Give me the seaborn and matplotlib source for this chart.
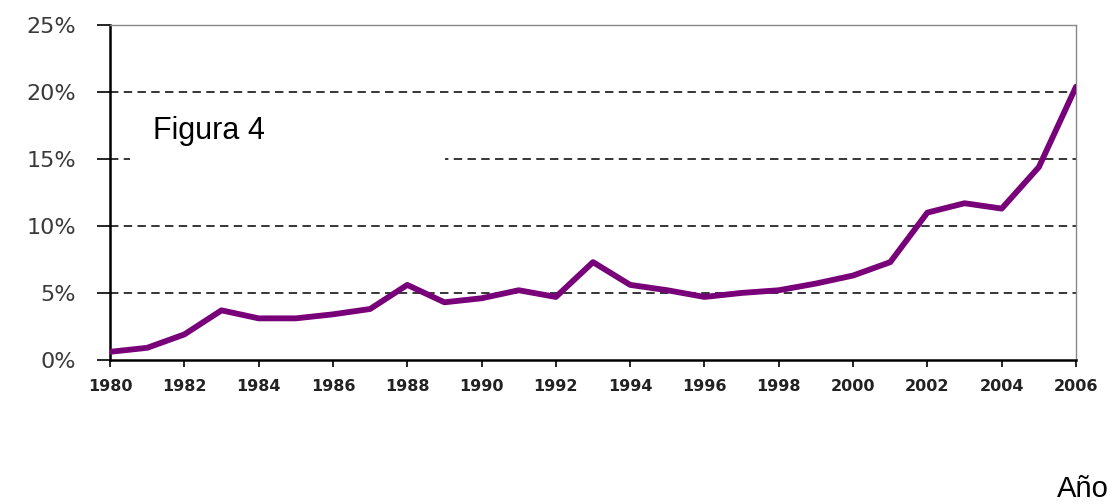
import pandas as pd
import seaborn as sns
import matplotlib.pyplot as plt
from matplotlib.ticker import FuncFormatter

# ------------------------------------------------------------
# Data (share, %)
# ------------------------------------------------------------
years = list(range(1980, 2007))
values = [0.6, 0.9, 1.9, 3.7, 3.1, 3.1, 3.4, 3.8, 5.6, 4.3,
          4.6, 5.2, 4.7, 7.3, 5.6, 5.2, 4.7, 5.0, 5.2, 5.7,
          6.3, 7.3, 11.0, 11.7, 11.3, 14.4, 20.4]
y_ticks = [0, 5, 10, 15, 20, 25]
x_ticks = list(range(1980, 2007, 2))

df = pd.DataFrame({"Año": years, "Valor": values})

sns.set_style("white")
plt.rcParams["font.family"] = ["Liberation Sans", "DejaVu Sans"]

fig = plt.figure(figsize=(11.07, 5.04), dpi=100)
ax = fig.add_axes([0.0994, 0.286, 0.8726, 0.664])

# dashed grid lines
for t in y_ticks[1:-1]:
    ax.axhline(t, color="black", linestyle=(0, (5.5, 3.5)), linewidth=1.1, zorder=1)

sns.lineplot(data=df, x="Año", y="Valor", color="#780078", linewidth=4.2,
             ax=ax, zorder=3)

ax.set_xlim(1980, 2006)
ax.set_ylim(0, 25)
ax.set_xticks(x_ticks)
ax.set_yticks(y_ticks)
ax.yaxis.set_major_formatter(FuncFormatter(lambda v, p: f"{int(v)}%"))
ax.set_xlabel("")
ax.set_ylabel("")

ax.tick_params(axis="y", left=True, direction="out", length=9.5, width=1.2,
               colors="black", labelsize=16, labelcolor="#3a3a3a", pad=15)
ax.tick_params(axis="x", bottom=True, direction="out", length=5, width=1.2,
               colors="black", labelsize=11.5, pad=9)
for lbl in ax.get_yticklabels():
    lbl.set_fontfamily("DejaVu Sans")
for lbl in ax.get_xticklabels():
    lbl.set_fontfamily("DejaVu Sans")
    lbl.set_fontweight("bold")
    lbl.set_color("#222222")

for side in ["left", "bottom"]:
    ax.spines[side].set_color("black")
    ax.spines[side].set_linewidth(1.8)
for side in ["top", "right"]:
    ax.spines[side].set_color("#888888")
    ax.spines[side].set_linewidth(1.0)

# white label box covering part of the 15% grid line
fig.patches.append(plt.Rectangle((130 / 1107, 1 - 180 / 504), 315 / 1107, 80 / 504,
                                 transform=fig.transFigure, facecolor="white",
                                 edgecolor="none", zorder=5))
fig.text(153 / 1107, 1 - 131 / 504, "Figura 4", fontsize=22, color="black",
         va="center", ha="left", zorder=6)
fig.text(1057 / 1107, 1 - 489 / 504, "Año", fontsize=21, color="black",
         va="center", ha="left")

fig.savefig("out.png", dpi=100)
